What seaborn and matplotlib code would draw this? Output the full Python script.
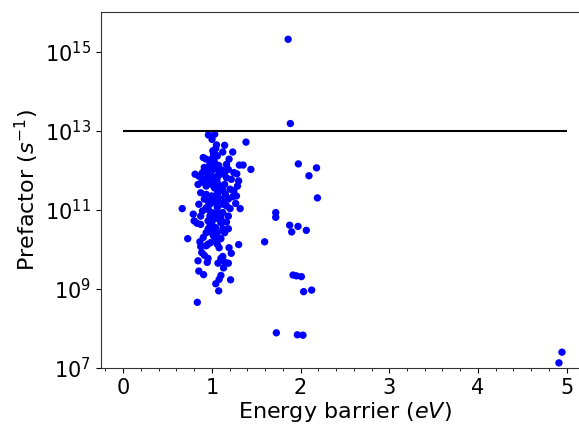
"""
Prefactor vs energy barrier scatter, log scale on y
"""
import matplotlib
matplotlib.use('Agg')
import matplotlib.pyplot as plt
from matplotlib.ticker import AutoMinorLocator, FixedLocator, NullLocator
import seaborn as sns
import numpy as np
import pandas as pd

# energy barrier (eV) and log10 of prefactor (1/s)
energy = [
    1.86, 1.885, 1.975, 2.18, 2.095, 2.19, 1.72, 1.72, 1.877, 1.971, 1.90,
    2.065, 1.915, 1.953, 2.009, 2.035, 2.125, 1.727, 1.964, 2.027, 1.595,
    4.947, 4.913,
    0.666, 0.728, 0.79, 0.80, 0.836, 0.853, 0.844, 0.907, 0.865, 0.874,
    0.886, 0.903, 0.915, 0.957, 0.957, 0.936, 0.853, 0.874, 0.832, 0.811,
    0.844, 0.894, 0.903, 0.936, 0.961, 1.032, 1.052, 1.044, 1.144, 1.235,
    1.385, 1.44, 1.31, 1.352, 1.281, 1.302, 1.289, 1.219, 1.165, 1.194,
    1.123, 1.123, 1.206, 1.235, 1.277, 1.269, 1.319, 1.206, 1.186, 1.165,
    1.186, 1.123, 1.102, 1.061, 1.082, 1.302, 1.194, 1.219, 1.123, 1.102,
    1.144, 1.186, 1.132, 1.069, 1.102, 1.082, 1.044, 1.077, 1.211, 0.948,
    1.002, 1.019, 1.061, 0.998, 0.978, 1.019, 1.082, 0.936, 0.957, 0.998,
    1.061, 1.102, 1.144, 1.165, 1.061, 0.998, 0.936, 0.886, 0.874, 0.936,
    0.998, 1.061, 1.102, 1.040, 0.978, 0.936, 0.998, 1.061, 1.123, 1.082,
    1.019, 0.957, 0.978, 1.040, 0.998, 0.957, 1.019, 1.061, 1.144, 1.102,
    1.165, 1.186, 1.248, 0.915, 0.894, 0.874, 0.915, 1.040, 1.011, 1.040,
    1.077, 1.186, 1.248, 0.978, 0.915, 0.853, 1.144, 1.094, 1.152, 1.019,
    0.957, 1.061, 1.123, 0.978, 1.040, 1.102, 0.998, 0.936, 1.052, 0.986,
    1.00, 1.03, 1.07, 0.97, 1.01, 1.05, 1.09, 0.99, 1.03, 1.12, 0.95,
    1.06, 1.00, 1.04, 1.08, 0.96, 1.13, 1.02,
]
log_prefactor = [
    15.31, 13.18, 12.16, 12.06, 11.86, 11.30, 10.93, 10.81, 10.61, 10.58,
    10.44, 10.48, 9.35, 9.33, 9.31, 8.93, 8.97, 7.89, 7.84, 7.83, 10.19,
    7.40, 7.13,
    11.03, 10.27, 10.89, 10.72, 8.66, 9.45, 9.71, 9.36, 10.19, 10.07,
    9.92, 10.30, 9.85, 9.77, 10.13, 10.09, 11.14, 10.63, 10.66, 11.90,
    11.64, 11.94, 12.32, 12.28, 12.89, 12.91, 12.64, 12.55, 12.63, 12.46,
    12.71, 12.02, 12.13, 12.13, 11.91, 11.73, 11.60, 11.77, 12.15, 12.28,
    12.46, 11.50, 11.52, 11.33, 11.35, 11.16, 11.03, 11.03, 10.84, 10.69,
    10.52, 10.52, 10.27, 10.13, 10.04, 10.12, 10.04, 9.90, 9.82, 9.77,
    9.68, 9.65, 9.53, 9.65, 9.34, 9.24, 9.13, 8.95, 9.23, 9.67,
    12.78, 12.28, 12.36, 12.28, 12.15, 12.02, 11.98, 12.02, 11.90, 11.85,
    11.85, 11.90, 11.94, 11.81, 11.69, 11.64, 11.60, 11.70, 11.43, 11.39,
    11.35, 11.39, 11.27, 11.18, 11.14, 11.05, 10.93, 10.93, 10.93, 10.76,
    10.76, 10.72, 10.59, 10.55, 10.42, 10.51, 10.34, 10.42, 10.42, 10.80,
    11.10, 11.27, 11.48, 11.27, 10.97, 10.84, 11.77, 11.56, 12.49, 12.40,
    12.12, 12.02, 11.94, 12.07, 12.07, 11.85, 11.64, 11.48, 11.39, 11.27,
    11.22, 11.06, 11.14, 10.84, 10.84, 10.67, 10.67, 10.42, 10.25, 10.17,
    11.70, 11.55, 11.45, 11.75, 11.30, 11.20, 11.60, 12.10, 12.20, 12.00,
    11.95, 11.80, 10.60, 10.30, 10.90, 11.00, 11.20, 12.40,
]

ref_prefactor = 1e13
ref_range = [0, 5]

df = pd.DataFrame({'energy': energy,
                   'prefactor': 10 ** np.array(log_prefactor)})

plt.rcParams['font.family'] = ['DejaVu Sans']
fig = plt.figure(figsize=(5.79, 4.25), dpi=100)
ax = fig.add_axes([0.1744, 0.1341, 0.8426, 0.8377])

sns.scatterplot(data=df, x='energy', y='prefactor', color='b',
                s=28, edgecolor='none', ax=ax)
ax.hlines(ref_prefactor, ref_range[0], ref_range[1], color='k', lw=1.5)

ax.set_yscale('log')
ax.set_ylim(1e7, 1e16)
ax.set_xlim(-0.25, 5.25)
ax.yaxis.set_major_locator(FixedLocator([1e7, 1e9, 1e11, 1e13, 1e15]))
ax.yaxis.set_minor_locator(NullLocator())
ax.xaxis.set_minor_locator(AutoMinorLocator(5))
ax.tick_params(labelsize=15)
ax.set_xlabel('Energy barrier ($eV$)', fontsize=16, labelpad=1.5)
ax.set_ylabel('Prefactor ($s^{-1}$)', fontsize=16, labelpad=3)
for sp in ax.spines.values():
    sp.set_color('#333333')

fig.savefig('out.png', dpi=100)
